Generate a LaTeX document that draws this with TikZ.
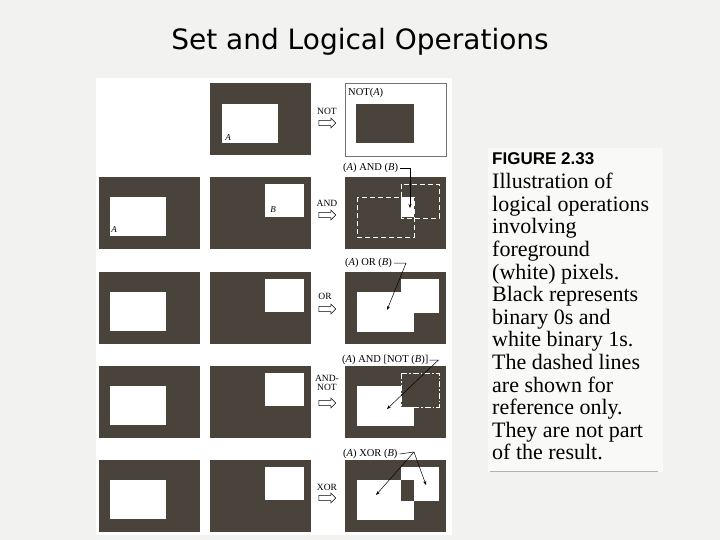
\documentclass[tikz,border=0pt]{standalone}
\usepackage{fontspec}
\setmainfont{Liberation Serif}
\newfontfamily\titlefont{DejaVu Sans}
\newfontfamily\headfont{Liberation Sans}
\usetikzlibrary{arrows.meta,shapes.arrows}
\definecolor{imgdark}{RGB}{74,67,59}
\definecolor{slidebg}{RGB}{242,242,240}
\definecolor{capbg}{RGB}{249,249,248}
\tikzset{
  img/.style={fill=imgdark, inner sep=0pt, minimum width=101pt, minimum height=72pt, anchor=north west},
  imgw/.style={img, fill=white, draw=black!55, line width=0.5pt, minimum height=73pt},
  fg/.style={fill=white}, bgpix/.style={fill=imgdark},
  oplabel/.style={font=\fontsize{9.5}{9}\selectfont, align=center, inner sep=0pt},
  opsign/.style={single arrow, draw, line width=0.5pt, fill=white, inner sep=2.4pt, single arrow head extend=2.4pt, minimum height=17pt},
  reslabel/.style={font=\fontsize{10.5}{12}\selectfont, anchor=west, inner sep=0pt},
  imglabel/.style={font=\fontsize{9}{10}\selectfont\itshape, inner sep=0pt},
  pointer/.style={-{Stealth[length=4pt,width=3pt]}, line width=0.5pt},
  refline/.style={white, dash pattern=on 5pt off 3pt, line width=0.9pt},
  refdot/.style={white, dash pattern=on 6pt off 2pt on 1.5pt off 2pt, line width=0.8pt},
}

\begin{document}
\begin{tikzpicture}[x=1pt,y=-1pt]
  % slide and panels
  \fill[slidebg] (0,0) rectangle (720,540);
  \fill[white] (96,78) rectangle (452,535);
  \fill[capbg] (488,148) rectangle (663,472);
  \draw[black!30, line width=0.8pt] (490,471) -- (658,471);
  \node[font=\titlefont\fontsize{28}{32}\selectfont, anchor=base] (title) at (360,50) {Set and Logical Operations};

  % row 1: NOT
  \node[img] (r1b) at (210,83) {};
  \fill[fg] (222,104) rectangle (278,143);
  \node[imglabel] (r1la) at (228,138) {A};
  \node[oplabel] (r1op) at (327,111) {NOT};
  \node[opsign] (r1ar) at (326,123) {};
  \node[imgw] (r1c) at (345,83) {};
  \fill[bgpix] (356,104) rectangle (414,143);
  \node[reslabel] (r1t) at (348,93) {NOT(\textit{A})};

  % row 2: AND
  \node[img] (r2a) at (99,177) {};
  \fill[fg] (110,197) rectangle (166,236);
  \node[imglabel] (r2la) at (114,230) {A};
  \node[img] (r2b) at (210,177) {};
  \fill[fg] (265,184) rectangle (304,217);
  \node[imglabel] (r2lb) at (273,210) {B};
  \node[oplabel] (r2op) at (327,203) {AND};
  \node[opsign] (r2ar) at (326,215) {};
  \node[img] (r2c) at (345,177) {};
  \fill[fg] (401,197) rectangle (414,217);
  \draw[refline] (357,197) rectangle (414,237);
  \draw[refline] (401,184) rectangle (439,218);
  \node[reslabel] (r2t) at (343,168) {(\textit{A}) AND (\textit{B})};
  \coordinate (r2p) at (410,208);
  \draw[pointer] ([xshift=2pt]r2t.east) -| (r2p);

  % row 3: OR
  \node[img] (r3a) at (99,272) {};
  \fill[fg] (110,292) rectangle (166,331);
  \node[img] (r3b) at (210,272) {};
  \fill[fg] (265,279) rectangle (304,312);
  \node[oplabel] (r3op) at (325,296) {OR};
  \node[opsign] (r3ar) at (326,309) {};
  \node[img] (r3c) at (345,272) {};
  \fill[fg] (357,292) rectangle (414,332);
  \fill[fg] (401,279) rectangle (439,313);
  \node[reslabel] (r3t) at (345,263) {(\textit{A}) OR (\textit{B})};
  \coordinate (r3p) at (387,310);
  \draw[pointer] ([xshift=2pt]r3t.east) -- ++(12,0) -- (r3p);

  % row 4: AND-NOT
  \node[img] (r4a) at (99,366) {};
  \fill[fg] (110,386) rectangle (166,425);
  \node[img] (r4b) at (210,366) {};
  \fill[fg] (265,373) rectangle (304,406);
  \node[oplabel] (r4op) at (327,383) {AND-\\NOT};
  \node[opsign] (r4ar) at (326,403) {};
  \node[img] (r4c) at (345,366) {};
  \fill[fg] (357,386) rectangle (414,426);
  \fill[bgpix] (401,373) rectangle (439,407);
  \draw[refdot] (401,373) rectangle (439,407);
  \node[reslabel] (r4t) at (342,360) {(\textit{A}) AND [NOT (\textit{B})]};
  \coordinate (r4p) at (387,409);
  \draw[pointer] ([xshift=1pt]r4t.east) -- ++(9,0) -- (r4p);

  % row 5: XOR
  \node[img] (r5a) at (99,460) {};
  \fill[fg] (110,480) rectangle (166,519);
  \node[img] (r5b) at (210,460) {};
  \fill[fg] (265,467) rectangle (304,500);
  \node[oplabel] (r5op) at (327,487) {XOR};
  \node[opsign] (r5ar) at (326,498) {};
  \node[img] (r5c) at (345,460) {};
  \fill[fg] (357,480) rectangle (414,520);
  \fill[fg] (401,467) rectangle (439,501);
  \fill[bgpix] (401,480) rectangle (414,501);
  \node[reslabel] (r5t) at (343,454) {(\textit{A}) XOR (\textit{B})};
  \coordinate (r5k) at (414,452);
  \coordinate (r5p1) at (376,495);
  \coordinate (r5p2) at (426,485);
  \draw[line width=0.5pt] ([xshift=2pt]r5t.east) -- (r5k);
  \draw[pointer] (r5k) -- (r5p1);
  \draw[pointer] (r5k) -- (r5p2);

  % caption
  \node[font=\headfont\bfseries\fontsize{17}{20}\selectfont, anchor=base west, inner sep=0pt] (fighead) at (492,165) {FIGURE 2.33};
  \node[font=\fontsize{22}{22.6}\selectfont, align=left, anchor=north west, inner sep=0pt] (figtext) at (492,173) {Illustration of\\logical operations\\involving\\foreground\\(white) pixels.\\Black represents\\binary 0s and\\white binary 1s.\\The dashed lines\\are shown for\\reference only.\\They are not part\\of the result.};
\end{tikzpicture}
\end{document}
